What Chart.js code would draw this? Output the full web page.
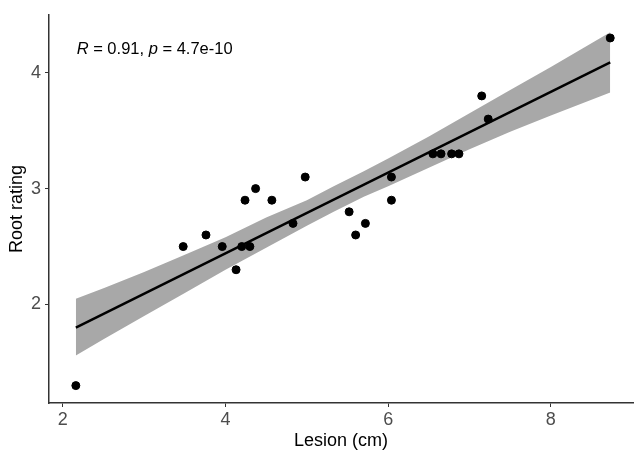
<!DOCTYPE html>
<html>
<head>
<meta charset="utf-8">
<script src="https://cdn.jsdelivr.net/npm/chart.js@4/dist/chart.umd.min.js"></script>
<style>
  body { margin: 0; background: #fff; }
</style>
</head>
<body>
<canvas id="chart" width="638" height="452"></canvas>
<script>
// observed points
const lesion = [2.16, 3.48, 3.76, 3.96, 4.13, 4.2, 4.3, 4.24, 4.37, 4.57, 4.83, 4.98,
  5.52, 5.6, 5.72, 6.04, 6.04, 6.55, 6.65, 6.78, 6.87, 7.15, 7.23, 8.73];
const rootRating = [1.3, 2.5, 2.6, 2.5, 2.3, 2.5, 2.5, 2.9, 3.0, 2.9, 2.7, 3.1,
  2.8, 2.6, 2.7, 3.1, 2.9, 3.3, 3.3, 3.3, 3.3, 3.8, 3.6, 4.3];

// fitted line and confidence band
const fitX = [2.16, 8.73];
const fitY = [1.80, 4.09];
const bandX = [2.16, 2.5, 3, 3.5, 4, 4.5, 5, 5.33, 5.7, 6, 6.5, 7, 7.5, 8, 8.73];
const bandLow = [1.56, 1.70, 1.90, 2.10, 2.30, 2.49, 2.68, 2.80, 2.93, 3.02, 3.18, 3.34, 3.49, 3.63, 3.83];
const bandHigh = [2.05, 2.14, 2.28, 2.43, 2.58, 2.75, 2.90, 3.02, 3.15, 3.26, 3.45, 3.65, 3.85, 4.05, 4.35];

const xTicks = [2, 4, 6, 8];
const yTicks = [2, 3, 4];

const toXY = (xs, ys) => xs.map((x, i) => ({ x: x, y: ys[i] }));
const fontFam = '"Liberation Sans", Arial, sans-serif';

const statLabel = {
  id: 'statLabel',
  afterDraw(chart) {
    const ctx = chart.ctx;
    const x = chart.scales.x.getPixelForValue(2.17);
    const y = chart.scales.y.getPixelForValue(4.2);
    const parts = [
      ['italic', 'R'], ['normal', ' = 0.91, '], ['italic', 'p'], ['normal', ' = 4.7e-10']
    ];
    ctx.save();
    ctx.fillStyle = '#000';
    ctx.textBaseline = 'middle';
    let cx = x;
    parts.forEach(p => {
      ctx.font = p[0] + ' 16.5px ' + fontFam;
      ctx.fillText(p[1], cx, y);
      cx += ctx.measureText(p[1]).width;
    });
    ctx.restore();
  }
};

const axisColor = '#333333';

new Chart(document.getElementById('chart').getContext('2d'), {
  type: 'scatter',
  data: {
    datasets: [
      {
        label: 'points',
        data: toXY(lesion, rootRating),
        backgroundColor: '#000',
        borderColor: '#000',
        pointRadius: 4,
        order: 0
      },
      {
        label: 'fit',
        type: 'line',
        data: toXY(fitX, fitY),
        borderColor: '#000',
        borderWidth: 2.5,
        pointRadius: 0,
        fill: false,
        order: 1
      },
      {
        label: 'low',
        type: 'line',
        data: toXY(bandX, bandLow),
        borderWidth: 0,
        borderColor: 'rgba(0,0,0,0)',
        pointRadius: 0,
        fill: false,
        order: 3
      },
      {
        label: 'high',
        type: 'line',
        data: toXY(bandX, bandHigh),
        borderWidth: 0,
        borderColor: 'rgba(0,0,0,0)',
        backgroundColor: '#a8a8a8',
        pointRadius: 0,
        fill: 2,
        order: 2
      }
    ]
  },
  options: {
    responsive: false,
    animation: false,
    layout: { padding: { top: 8, right: 0, left: 0, bottom: 0 } },
    plugins: {
      legend: { display: false },
      tooltip: { enabled: false }
    },
    scales: {
      x: {
        type: 'linear',
        min: 1.83,
        max: 9.01,
        afterBuildTicks: s => { s.ticks = xTicks.map(v => ({ value: v })); },
        afterFit: s => { s.height = 49; },
        grid: { drawOnChartArea: false, drawTicks: true, tickLength: 4, color: axisColor },
        border: { display: true, color: axisColor, width: 1.5 },
        ticks: {
          color: '#4d4d4d',
          padding: 2,
          font: { family: fontFam, size: 18 }
        },
        title: {
          display: true,
          text: 'Lesion (cm)',
          color: '#000',
          padding: { top: 0, bottom: 0 },
          font: { family: fontFam, size: 18 }
        }
      },
      y: {
        type: 'linear',
        min: 1.15,
        max: 4.5,
        afterBuildTicks: s => { s.ticks = yTicks.map(v => ({ value: v })); },
        afterFit: s => { s.width = 49; },
        grid: { drawOnChartArea: false, drawTicks: true, tickLength: 4, color: axisColor },
        border: { display: true, color: axisColor, width: 1.5 },
        ticks: {
          color: '#4d4d4d',
          padding: 4,
          font: { family: fontFam, size: 18 }
        },
        title: {
          display: true,
          text: 'Root rating',
          color: '#000',
          padding: { top: 6, bottom: 0 },
          font: { family: fontFam, size: 18 }
        }
      }
    }
  },
  plugins: [statLabel]
});
</script>
</body>
</html>
